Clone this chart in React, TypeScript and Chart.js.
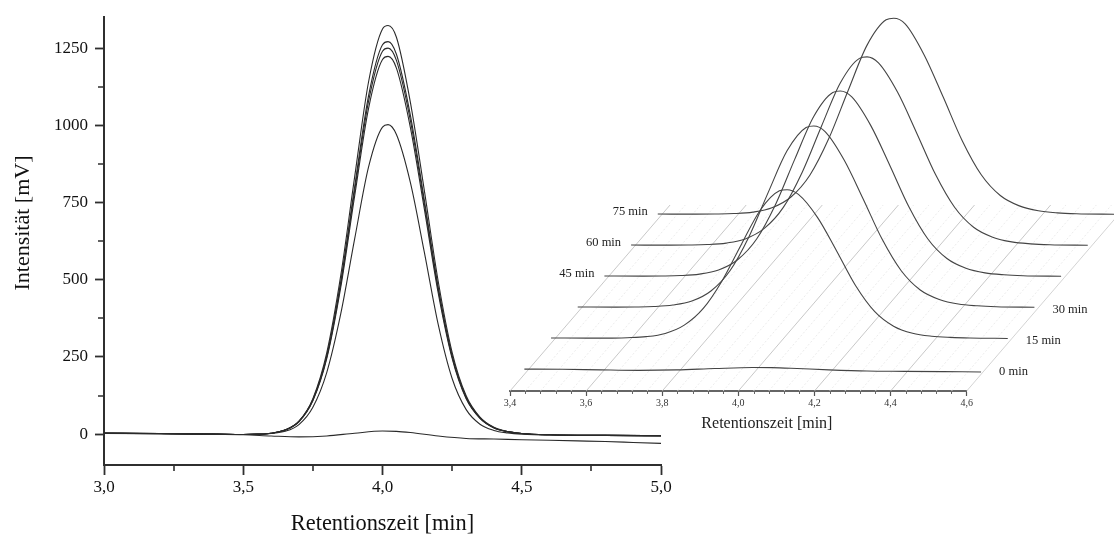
import React, { useEffect, useRef } from "react";
import { Chart, registerables } from "chart.js";

Chart.register(...registerables);

const FONT = "'Liberation Serif', serif";
const INK = "#2f2f2f";

const retention = [3.0, 3.2, 3.4, 3.5, 3.55, 3.6, 3.65, 3.7, 3.75, 3.8, 3.85, 3.9, 3.95, 4.0, 4.02, 4.05, 4.1, 4.15, 4.2, 4.25, 4.3, 4.35, 4.4, 4.45, 4.5, 4.6, 4.8, 5.0];
const run75 = [3, 2, 0, -1, 0, 3, 13, 42, 115, 264, 513, 833, 1141, 1312, 1323, 1285, 1075, 790, 495, 265, 125, 55, 22, 8, 2, -2, -4, -5];
const run60 = [4, 2, 0, -1, 0, 3, 13, 41, 112, 254, 494, 801, 1096, 1261, 1271, 1230, 1033, 759, 476, 255, 120, 53, 21, 8, 2, -2, -4, -5];
const run45 = [3, 2, 0, -1, 0, 3, 13, 41, 110, 250, 485, 788, 1078, 1240, 1250, 1210, 1016, 747, 468, 250, 118, 52, 21, 8, 2, -2, -4, -6];
const run30 = [2, 1, 0, -1, 0, 3, 13, 40, 108, 245, 475, 771, 1055, 1213, 1223, 1185, 993, 730, 457, 245, 115, 51, 20, 8, 2, -2, -4, -5];
const run15 = [3, 1, 0, -1, -1, 2, 9, 31, 87, 200, 389, 632, 865, 994, 1002, 970, 815, 590, 355, 180, 80, 32, 12, 4, 0, -3, -4, -5];
const retentionLow = [3.0, 3.2, 3.4, 3.5, 3.6, 3.7, 3.8, 3.9, 4.0, 4.05, 4.1, 4.2, 4.3, 4.4, 4.5, 4.6, 4.7, 4.8, 4.9, 5.0];
const run0 = [3, 1, -1, -2, -6, -9, -6, 3, 10, 9, 5, -6, -14, -16, -18, -20, -22, -24, -27, -30];

const yMajorTicks = [0, 250, 500, 750, 1000, 1250];
const yMinorTicks = [125, 375, 625, 875, 1125];
const xMajorTicks = [3.0, 3.5, 4.0, 4.5, 5.0];
const xMinorTicks = [3.25, 3.75, 4.25, 4.75];

const floorMajor = [3.4, 3.6, 3.8, 4.0, 4.2, 4.4];
const floorEdge = [4.6];
const floorMinor = [3.44, 3.48, 3.52, 3.56, 3.64, 3.68, 3.72, 3.76, 3.84, 3.88, 3.92, 3.96, 4.04, 4.08, 4.12, 4.16, 4.24, 4.28, 4.32, 4.36, 4.44, 4.48, 4.52, 4.56];
const depthTimes = [0, 15, 30, 45, 60, 75];
const depthLabels = ["0 min", "15 min", "30 min", "45 min", "60 min", "75 min"];

const fmt = (v: number) => v.toFixed(1).replace(".", ",");
const pairs = (xs: number[], ys: number[]) => xs.map((x, i) => ({ x, y: ys[i] }));

// pseudo-3D projection of the waterfall: depth (min) shears the floor up and to the right
const FRONT = -10.65;
const BACK = 79.35;
const DEPTH_X = 0.004673;
const DEPTH_Y = 13.96;
const PEAK_SHIFT = -0.012;
const project = (t: number, v: number, d: number) => ({
  x: t + (d - FRONT) * DEPTH_X,
  y: v + (d - FRONT) * DEPTH_Y,
});

const minorTicksLeft = {
  id: "minorTicksLeft",
  afterDraw(chart: any) {
    const { ctx, scales, chartArea } = chart;
    ctx.save();
    ctx.strokeStyle = INK;
    ctx.lineWidth = 1.6;
    ctx.beginPath();
    yMinorTicks.forEach((v) => {
      const p = Math.round(scales.y.getPixelForValue(v));
      ctx.moveTo(chartArea.left, p);
      ctx.lineTo(chartArea.left - 6, p);
    });
    xMinorTicks.forEach((v) => {
      const p = Math.round(scales.x.getPixelForValue(v));
      ctx.moveTo(p, chartArea.bottom);
      ctx.lineTo(p, chartArea.bottom + 6);
    });
    ctx.stroke();
    ctx.fillStyle = "#111";
    ctx.font = `22px ${FONT}`;
    ctx.textAlign = "center";
    ctx.textBaseline = "middle";
    ctx.translate(23, 223);
    ctx.rotate(-Math.PI / 2);
    ctx.fillText("Intensität [mV]", 0, 0);
    ctx.restore();
  },
};

const waterfallDecor = {
  id: "waterfallDecor",
  afterDraw(chart: any) {
    const { ctx, scales, chartArea } = chart;
    ctx.save();
    ctx.strokeStyle = "#666";
    ctx.lineWidth = 1;
    ctx.beginPath();
    floorMinor.forEach((v) => {
      const p = Math.round(scales.x.getPixelForValue(v)) + 0.5;
      ctx.moveTo(p, chartArea.bottom);
      ctx.lineTo(p, chartArea.bottom + 3);
    });
    ctx.stroke();
    ctx.fillStyle = "#222";
    ctx.font = `12.5px ${FONT}`;
    ctx.textBaseline = "middle";
    depthTimes.forEach((d, i) => {
      if (d >= 45) {
        const p = project(3.388, 0, d);
        ctx.textAlign = "right";
        ctx.fillText(depthLabels[i], scales.x.getPixelForValue(p.x) - 10, scales.y.getPixelForValue(p.y) - 2);
      } else {
        const p = project(4.588, 0, d);
        ctx.textAlign = "left";
        ctx.fillText(depthLabels[i], scales.x.getPixelForValue(p.x) + 18, scales.y.getPixelForValue(p.y) + 3);
      }
    });
    ctx.font = `16px ${FONT}`;
    ctx.textAlign = "center";
    ctx.fillStyle = "#222";
    ctx.fillText("Retentionszeit [min]", scales.x.getPixelForValue(4.075), chartArea.bottom + 33);
    ctx.restore();
  },
};

export default function App() {
  const leftRef = useRef<HTMLCanvasElement>(null);
  const rightRef = useRef<HTMLCanvasElement>(null);

  useEffect(() => {
    const line = (data: any[]) => ({
      data,
      borderColor: "#2a2a2a",
      borderWidth: 1.1,
      pointRadius: 0,
      cubicInterpolationMode: "monotone",
    });
    const left = new Chart(leftRef.current!, {
      type: "line",
      data: {
        datasets: [run75, run60, run45, run30, run15].map((s) => line(pairs(retention, s))).concat([line(pairs(retentionLow, run0))]) as any,
      },
      options: {
        responsive: false,
        animation: false,
        layout: { padding: { left: 0, top: 16, right: 453, bottom: 0 } },
        plugins: { legend: { display: false }, tooltip: { enabled: false } },
        scales: {
          x: {
            type: "linear",
            min: 3,
            max: 5,
            afterBuildTicks: (s: any) => { s.ticks = xMajorTicks.map((value) => ({ value })); },
            afterFit: (s: any) => { s.height = 70; },
            border: { color: INK, width: 2 },
            grid: { drawOnChartArea: false, tickLength: 10, tickColor: INK, tickWidth: 1.8 },
            ticks: { color: "#111", font: { family: FONT, size: 17 }, padding: 2, maxRotation: 0, autoSkip: false, callback: (v: any) => fmt(Number(v)) },
            title: { display: true, text: "Retentionszeit [min]", color: "#111", font: { family: FONT, size: 22.4 }, padding: { top: 0, bottom: -3 } },
          },
          y: {
            type: "linear",
            min: -100,
            max: 1350,
            afterBuildTicks: (s: any) => { s.ticks = yMajorTicks.map((value) => ({ value })); },
            afterFit: (s: any) => { s.width = 104; },
            border: { color: INK, width: 2 },
            grid: { drawOnChartArea: false, tickLength: 9, tickColor: INK, tickWidth: 1.8 },
            ticks: { color: "#111", font: { family: FONT, size: 17 }, padding: 7, autoSkip: false, callback: (v: any) => String(v) },
          },
        },
      } as any,
      plugins: [minorTicksLeft],
    });

    const floorLine = (t: number, color: string, dash: number[]) => ({
      data: [project(t, 0, FRONT), project(t, 0, BACK)],
      borderColor: color,
      borderWidth: 0.8,
      borderDash: dash,
      pointRadius: 0,
      clip: false,
      order: 2,
    });
    const curve = (xs: number[], ys: number[], d: number) => ({
      data: xs
        .map((t, i) => ({ t, v: ys[i] }))
        .filter((p) => p.t >= 3.4 && p.t <= 4.6)
        .map((p) => project(p.t + PEAK_SHIFT, p.v, d)),
      borderColor: "#444",
      borderWidth: 1.1,
      pointRadius: 0,
      cubicInterpolationMode: "monotone",
      clip: false,
      order: 1,
    });
    const right = new Chart(rightRef.current!, {
      type: "line",
      data: {
        datasets: [
          ...floorMinor.map((t) => floorLine(t, "#e6e6e6", [2, 2])),
          ...floorEdge.map((t) => floorLine(t, "#c8c8c8", [])),
          ...floorMajor.map((t) => floorLine(t, "#bababa", [])),
          curve(retentionLow, run0, depthTimes[0]),
          curve(retention, run15, depthTimes[1]),
          curve(retention, run30, depthTimes[2]),
          curve(retention, run45, depthTimes[3]),
          curve(retention, run60, depthTimes[4]),
          curve(retention, run75, depthTimes[5]),
        ] as any,
      },
      options: {
        responsive: false,
        animation: false,
        layout: { padding: { left: 510, top: 10, right: 147.3, bottom: 0 } },
        plugins: { legend: { display: false }, tooltip: { enabled: false } },
        scales: {
          x: {
            type: "linear",
            bounds: "data",
            afterDataLimits: (s: any) => { s.min = 3.4; s.max = 4.6; },
            afterBuildTicks: (s: any) => { s.ticks = [...floorMajor, ...floorEdge].map((value) => ({ value })); },
            afterFit: (s: any) => { s.height = 144; },
            border: { color: "#666", width: 2 },
            grid: { drawOnChartArea: false, tickLength: 5, tickColor: "#555", tickWidth: 1.2 },
            ticks: { color: "#333", font: { family: FONT, size: 10 }, padding: 1, maxRotation: 0, autoSkip: false, callback: (v: any) => fmt(Number(v)) },
          },
          y: { type: "linear", display: false, min: 0, max: 2574 },
        },
      } as any,
      plugins: [waterfallDecor],
    });
    return () => {
      left.destroy();
      right.destroy();
    };
  }, []);

  const abs: React.CSSProperties = { position: "absolute", left: 0, top: 0 };
  return (
    <div style={{ position: "fixed", left: 0, top: 0, width: 1114, height: 535, background: "#fff", overflow: "hidden" }}>
      <canvas ref={leftRef} width={1114} height={535} style={abs} />
      <canvas ref={rightRef} width={1114} height={535} style={abs} />
    </div>
  );
}
